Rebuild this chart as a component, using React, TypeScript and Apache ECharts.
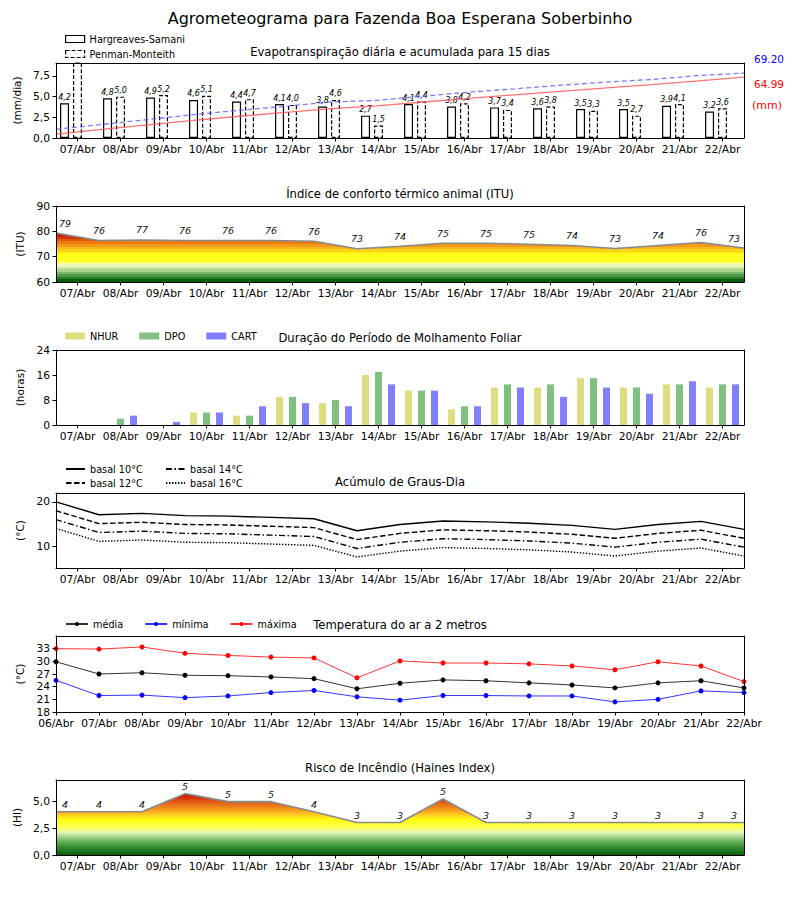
import React, { useEffect, useRef } from 'react';
import * as echarts from 'echarts';

const FONT = 'DejaVu Sans';

const mainTitle = 'Agrometeograma para Fazenda Boa Esperana Soberbinho';
const panelTitles = [
  'Evapotranspiração diária e acumulada para 15 dias',
  'Índice de conforto térmico animal (ITU)',
  'Duração do Período de Molhamento Foliar',
  'Acúmulo de Graus-Dia',
  'Temperatura do ar a 2 metros',
  'Risco de Incêndio (Haines Index)',
];
const axisNames = ['(mm/dia)', '(ITU)', '(horas)', '(°C)', '(°C)', '(HI)'];

const days = ['07/Abr', '08/Abr', '09/Abr', '10/Abr', '11/Abr', '12/Abr', '13/Abr', '14/Abr', '15/Abr', '16/Abr', '17/Abr', '18/Abr', '19/Abr', '20/Abr', '21/Abr', '22/Abr'];
const days17 = ['06/Abr', '07/Abr', '08/Abr', '09/Abr', '10/Abr', '11/Abr', '12/Abr', '13/Abr', '14/Abr', '15/Abr', '16/Abr', '17/Abr', '18/Abr', '19/Abr', '20/Abr', '21/Abr', '22/Abr'];

// Panel 1: evapotranspiration
const etHS = [4.2, 4.8, 4.9, 4.6, 4.4, 4.1, 3.8, 2.7, 4.1, 3.8, 3.7, 3.6, 3.5, 3.5, 3.9, 3.2];
const etPM = [9.3, 5.0, 5.2, 5.1, 4.7, 4.0, 4.6, 1.5, 4.4, 4.2, 3.4, 3.8, 3.3, 2.7, 4.1, 3.6];
const cumHS = [4.2, 9.1, 14.0, 18.7, 23.2, 27.4, 31.3, 34.2, 38.4, 42.3, 46.1, 49.8, 53.4, 57.0, 61.0, 64.99];
const cumPM = [9.3, 14.4, 19.7, 24.9, 29.7, 33.8, 38.5, 40.1, 44.6, 48.9, 52.4, 56.3, 59.7, 62.5, 66.6, 69.2];

// Panel 2: ITU
const itu = [79.3, 76.4, 76.6, 76.4, 76.4, 76.4, 76.1, 73.1, 74.1, 75.3, 75.3, 74.9, 74.4, 73.2, 74.4, 75.6, 73.4];

// Panel 3: leaf wetness (hours)
const nhur = [0, 0, 0, 4, 3, 9, 7, 16, 11, 5, 12, 12, 15, 12, 13, 12];
const dpo = [0, 2, 0, 4, 3, 9, 8, 17, 11, 6, 13, 13, 15, 12, 13, 13];
const cart = [0, 3, 1, 4, 6, 7, 6, 13, 11, 6, 12, 9, 12, 10, 14, 13];

// Panel 4: degree days
const gd10 = [20.0, 17.1, 17.4, 16.9, 16.8, 16.5, 16.2, 13.5, 14.9, 15.7, 15.5, 15.2, 14.7, 13.8, 14.9, 15.6, 13.8];
const gd12 = [18.0, 15.1, 15.4, 14.9, 14.8, 14.5, 14.2, 11.5, 12.9, 13.7, 13.5, 13.2, 12.7, 11.8, 12.9, 13.6, 11.8];
const gd14 = [16.0, 13.1, 13.4, 12.9, 12.8, 12.5, 12.2, 9.5, 10.9, 11.7, 11.5, 11.2, 10.7, 9.8, 10.9, 11.6, 9.8];
const gd16 = [14.0, 11.1, 11.4, 10.9, 10.8, 10.5, 10.2, 7.6, 8.9, 9.7, 9.5, 9.2, 8.7, 7.8, 8.9, 9.6, 7.8];

// Panel 5: temperature
const tMed = [29.9, 27.0, 27.3, 26.7, 26.6, 26.3, 25.9, 23.5, 24.8, 25.6, 25.4, 24.9, 24.4, 23.7, 24.9, 25.4, 23.7];
const tMin = [25.5, 21.9, 22.0, 21.4, 21.8, 22.6, 23.1, 21.6, 20.8, 21.9, 21.9, 21.8, 21.8, 20.4, 21.0, 23.0, 22.6];
const tMax = [33.0, 32.9, 33.4, 31.9, 31.4, 31.0, 30.8, 26.1, 30.1, 29.6, 29.6, 29.4, 28.9, 28.0, 29.9, 28.9, 25.2];

// Panel 6: Haines
const haines = [4.05, 4.05, 4.05, 5.75, 5.0, 5.0, 4.05, 3.05, 3.05, 5.25, 3.05, 3.05, 3.05, 3.05, 3.05, 3.05, 3.05];
const hainesLabels = ['4', '4', '4', '5', '5', '5', '4', '3', '3', '5', '3', '3', '3', '3', '3', '3', '3'];

const ticksET = [0, 2.5, 5, 7.5];
const ticksITU = [60, 70, 80, 90];
const ticksLW = [0, 8, 16, 24];
const ticksGD = [10, 20];
const ticksT = [18, 21, 24, 27, 30, 33];
const ticksHI = [0, 2.5, 5];

const GRIDS = [
  { top: 63, height: 75, min: 0, max: 9.07, ticks: ticksET },
  { top: 206, height: 76, min: 60, max: 90, ticks: ticksITU },
  { top: 350, height: 75, min: 0, max: 24, ticks: ticksLW },
  { top: 493, height: 75, min: 5.1, max: 22, ticks: ticksGD },
  { top: 636, height: 76, min: 18, max: 36, ticks: ticksT },
  { top: 780, height: 75, min: 0, max: 7.03, ticks: ticksHI },
];

const ituBands: [number, string][] = [
  [60, '#0b5e0b'], [61, '#2a7d2a'], [62, '#4f9a45'], [63, '#7bb96a'], [64, '#a6d48c'],
  [65, '#cdeaa8'], [66, '#ecf8b4'], [67, '#fbff8a'], [68, '#ffff1e'], [71, '#fff010'],
  [72, '#fdd21a'], [73, '#f9b51e'], [74, '#f39a18'], [75, '#ec7c10'], [76, '#e05a06'],
  [77, '#d23204'], [78, '#c80a00'], [90, '#c80a00'],
];
const hainesStops: [number, string][] = [
  [0, '#0a5e0a'], [0.7, '#2f8a2f'], [1.3, '#6cb45c'], [1.8, '#b4dc98'], [2.15, '#e8f8b8'],
  [2.6, '#ffff50'], [3.3, '#ffff10'], [3.8, '#ffc820'], [4.3, '#f49418'], [4.9, '#e4621a'],
  [5.4, '#d42a08'], [5.8, '#c80a00'], [7.03, '#c80a00'],
];

const fmtComma = (v: number) => v.toFixed(1).replace('.', ',');

function bandGradient(gi: number, bands: [number, string][]) {
  const g = GRIDS[gi];
  const bottom = g.top + g.height;
  const off = (v: number) => Math.max(0, Math.min(1, (v - g.min) / (g.max - g.min)));
  const stops: { offset: number; color: string }[] = [];
  for (let i = 0; i < bands.length - 1; i++) {
    stops.push({ offset: off(bands[i][0]), color: bands[i][1] });
    stops.push({ offset: off(bands[i + 1][0]) - 0.0001, color: bands[i][1] });
  }
  return new echarts.graphic.LinearGradient(0, bottom, 0, g.top, stops, true);
}
function smoothGradient(gi: number, st: [number, string][]) {
  const g = GRIDS[gi];
  const bottom = g.top + g.height;
  const off = (v: number) => Math.max(0, Math.min(1, (v - g.min) / (g.max - g.min)));
  return new echarts.graphic.LinearGradient(0, bottom, 0, g.top, st.map(([v, c]) => ({ offset: off(v), color: c })), true);
}

const TICK_FS = 10.7;
const black = { color: '#000', width: 1 };

function bottomX(gi: number, data: string[], boundaryGap: boolean) {
  return {
    type: 'category', gridIndex: gi, position: 'bottom', data, boundaryGap,
    axisLine: { show: true, onZero: false, lineStyle: black },
    axisTick: { show: true, alignWithLabel: true, interval: 0, length: 3.5, lineStyle: black },
    axisLabel: { interval: 0, hideOverlap: false, fontSize: TICK_FS, color: '#000', fontFamily: FONT, margin: 6 },
    splitLine: { show: false }, z: 10,
  };
}
function topX(gi: number, data: string[], boundaryGap: boolean) {
  return {
    type: 'category', gridIndex: gi, position: 'top', data, boundaryGap,
    axisLine: { show: true, onZero: false, lineStyle: black },
    axisTick: { show: false }, axisLabel: { show: false }, splitLine: { show: false }, z: 10,
  };
}
function leftY(gi: number, fmt?: (v: number) => string) {
  const g = GRIDS[gi];
  return {
    type: 'value', gridIndex: gi, position: 'left', min: g.min, max: g.max,
    name: axisNames[gi], nameLocation: 'middle', nameGap: 30, nameRotate: 90,
    nameTextStyle: { fontSize: 10.5, color: '#000', fontFamily: FONT },
    axisLine: { show: true, onZero: false, lineStyle: black },
    axisTick: { show: true, length: 3.5, customValues: g.ticks, lineStyle: black },
    axisLabel: { customValues: g.ticks, formatter: fmt, fontSize: TICK_FS, color: '#000', fontFamily: FONT, margin: 6 },
    splitLine: { show: false }, z: 10,
  };
}
function rightY(gi: number, min?: number, max?: number) {
  const g = GRIDS[gi];
  return {
    type: 'value', gridIndex: gi, position: 'right', min: min ?? g.min, max: max ?? g.max,
    axisLine: { show: true, onZero: false, lineStyle: black },
    axisTick: { show: false }, axisLabel: { show: false }, splitLine: { show: false }, z: 10,
  };
}

function buildOption(): any {
  const grids = GRIDS.map((g) => ({ left: 56, right: 56, top: g.top, height: g.height, containLabel: false }));
  const xAxis = [
    bottomX(0, days, true), topX(0, days, false),
    bottomX(1, days, true), topX(1, days17, false),
    bottomX(2, days, true), topX(2, days, true),
    bottomX(3, days, true), topX(3, days17, false),
    bottomX(4, days17, false), topX(4, days17, false),
    bottomX(5, days, true), topX(5, days17, false),
  ];
  const yAxis = [
    leftY(0, fmtComma), rightY(0, 0, 80),
    leftY(1), rightY(1),
    leftY(2), rightY(2),
    leftY(3), rightY(3),
    leftY(4), rightY(4),
    leftY(5, fmtComma), rightY(5),
  ];

  const barLabel = {
    show: true, position: 'top', distance: 2, fontSize: 8, fontStyle: 'italic', color: '#000', fontFamily: FONT,
    formatter: (p: any) => fmtComma(p.value),
  };
  const maxET = GRIDS[0].max;
  const etItems = (arr: number[]) => arr.map((v) => (v > maxET ? { value: v, label: { show: false } } : v));

  const edgeLabel = (n: number) => (i: number) =>
    i === 0 ? { offset: [9, 0] } : i === n - 1 ? { offset: [-10, 0] } : {};

  const ituLabelOf = edgeLabel(itu.length);
  const hiLabelOf = edgeLabel(haines.length);
  const hiddenSymbol = { symbol: 'circle', symbolSize: 2, showSymbol: true, itemStyle: { color: 'rgba(0,0,0,0)' } };

  const series: any[] = [
    {
      name: 'Hargreaves-Samani', type: 'bar', xAxisIndex: 0, yAxisIndex: 0, data: etItems(etHS),
      barWidth: 9, barGap: '44%', clip: true,
      itemStyle: { color: '#ffffff', borderColor: '#000', borderWidth: 1.2 },
      label: barLabel, z: 2,
    },
    {
      name: 'Penman-Monteith', type: 'bar', xAxisIndex: 0, yAxisIndex: 0, data: etItems(etPM),
      barWidth: 9, barGap: '44%', clip: true,
      itemStyle: { color: '#ffffff', borderColor: '#000', borderWidth: 1.2, borderType: [4, 2] },
      label: barLabel, z: 2,
    },
    { name: '_pad', type: 'bar', xAxisIndex: 0, yAxisIndex: 0, data: [], barWidth: 9, barGap: '44%' },
    {
      name: 'PM acumulada', type: 'line', xAxisIndex: 1, yAxisIndex: 1, data: cumPM, symbol: 'none',
      lineStyle: { color: 'rgba(90,90,255,0.8)', width: 1.3, type: [5, 3] }, z: 5,
    },
    {
      name: 'HS acumulada', type: 'line', xAxisIndex: 1, yAxisIndex: 1, data: cumHS, symbol: 'none',
      lineStyle: { color: 'rgba(255,90,90,0.85)', width: 1.3 }, z: 5,
    },
    {
      name: 'ITU', type: 'line', xAxisIndex: 3, yAxisIndex: 2, ...hiddenSymbol,
      data: itu.map((v, i) => ({ value: v, label: ituLabelOf(i) })),
      lineStyle: { color: '#8a8a8a', width: 1.6 },
      areaStyle: { origin: 'start', color: bandGradient(1, ituBands), opacity: 1 },
      label: {
        show: true, position: 'top', distance: 4, fontSize: 9.5, fontStyle: 'italic', color: '#111', fontFamily: FONT,
        formatter: (p: any) => String(Math.round(p.value)),
      },
    },
    { name: 'NHUR', type: 'bar', xAxisIndex: 4, yAxisIndex: 4, data: nhur, barWidth: 7, barGap: '86%', itemStyle: { color: '#dede80' } },
    { name: 'DPO', type: 'bar', xAxisIndex: 4, yAxisIndex: 4, data: dpo, barWidth: 7, barGap: '86%', itemStyle: { color: '#80c080' } },
    { name: 'CART', type: 'bar', xAxisIndex: 4, yAxisIndex: 4, data: cart, barWidth: 7, barGap: '86%', itemStyle: { color: '#8080ff' } },
    { name: 'basal 10°C', type: 'line', xAxisIndex: 7, yAxisIndex: 6, data: gd10, symbol: 'none', itemStyle: { color: '#000' }, lineStyle: { color: '#000', width: 1.4, type: 'solid' } },
    { name: 'basal 12°C', type: 'line', xAxisIndex: 7, yAxisIndex: 6, data: gd12, symbol: 'none', itemStyle: { color: '#000' }, lineStyle: { color: '#000', width: 1.4, type: [5.5, 2.5] } },
    { name: 'basal 14°C', type: 'line', xAxisIndex: 7, yAxisIndex: 6, data: gd14, symbol: 'none', itemStyle: { color: '#000' }, lineStyle: { color: '#000', width: 1.4, type: [6, 2.5, 1.5, 2.5] } },
    { name: 'basal 16°C', type: 'line', xAxisIndex: 7, yAxisIndex: 6, data: gd16, symbol: 'none', itemStyle: { color: '#000' }, lineStyle: { color: '#000', width: 1.4, type: [1.4, 1.6] } },
    { name: 'média', type: 'line', xAxisIndex: 8, yAxisIndex: 8, data: tMed, symbol: 'circle', symbolSize: 5, itemStyle: { color: '#000' }, lineStyle: { color: '#000', width: 1, opacity: 0.8 } },
    { name: 'mínima', type: 'line', xAxisIndex: 8, yAxisIndex: 8, data: tMin, symbol: 'circle', symbolSize: 5, itemStyle: { color: '#0000ff' }, lineStyle: { color: '#0000ff', width: 1, opacity: 0.8 } },
    { name: 'máxima', type: 'line', xAxisIndex: 8, yAxisIndex: 8, data: tMax, symbol: 'circle', symbolSize: 5, itemStyle: { color: '#ff0000' }, lineStyle: { color: '#ff0000', width: 1, opacity: 0.8 } },
    {
      name: 'Haines', type: 'line', xAxisIndex: 11, yAxisIndex: 10, ...hiddenSymbol,
      data: haines.map((v, i) => ({ value: v, label: hiLabelOf(i) })),
      lineStyle: { color: '#8a8a8a', width: 1.6 },
      areaStyle: { origin: 'start', color: smoothGradient(5, hainesStops), opacity: 1 },
      label: {
        show: true, position: 'top', distance: 1, fontSize: 9.5, fontStyle: 'italic', color: '#111', fontFamily: FONT,
        formatter: (p: any) => hainesLabels[p.dataIndex],
      },
    },
  ];

  const legText = { fontSize: 9.7, color: '#000', fontFamily: FONT, lineHeight: 12 };
  const legend = [
    {
      left: 65, top: 33, padding: 0, orient: 'vertical', itemWidth: 19, itemHeight: 7, itemGap: 3, selectedMode: false,
      textStyle: legText,
      data: [
        { name: 'Hargreaves-Samani', icon: 'rect', itemStyle: { color: '#fff', borderColor: '#000', borderWidth: 1.2 } },
        { name: 'Penman-Monteith', icon: 'rect', itemStyle: { color: '#fff', borderColor: '#000', borderWidth: 1.2, borderType: [4, 2] } },
      ],
    },
    {
      left: 65, top: 330, padding: 0, orient: 'horizontal', itemWidth: 20, itemHeight: 7, itemGap: 21, selectedMode: false,
      textStyle: legText, icon: 'rect', data: ['NHUR', 'DPO', 'CART'],
    },
    {
      left: 65, top: 463, padding: 0, orient: 'vertical', itemWidth: 19, itemHeight: 8, itemGap: 2, selectedMode: false,
      textStyle: legText, itemStyle: { opacity: 0 }, data: ['basal 10°C', 'basal 12°C'],
    },
    {
      left: 165, top: 463, padding: 0, orient: 'vertical', itemWidth: 19, itemHeight: 8, itemGap: 2, selectedMode: false,
      textStyle: legText, itemStyle: { opacity: 0 }, data: ['basal 14°C', 'basal 16°C'],
    },
    {
      left: 65, top: 618, padding: 0, orient: 'horizontal', itemWidth: 22, itemHeight: 5, itemGap: 21, selectedMode: false,
      textStyle: legText, data: ['média', 'mínima', 'máxima'],
    },
  ];

  const titleTops = [41, 183, 327, 471, 614, 757];
  const title = [
    { text: mainTitle, left: 'center', top: 5, textStyle: { fontSize: 16, fontWeight: 'normal', color: '#000', fontFamily: FONT } },
    ...panelTitles.map((t, i) => ({
      text: t, left: 'center', top: titleTops[i],
      textStyle: { fontSize: 11.6, fontWeight: 'normal', color: '#000', fontFamily: FONT },
    })),
  ];

  const graphic = [
    { type: 'text', x: 769, y: 59, style: { text: cumPM[cumPM.length - 1].toFixed(2), fill: '#0000ff', fontSize: 10.5, fontFamily: FONT, textAlign: 'center', textVerticalAlign: 'middle' } },
    { type: 'text', x: 769, y: 84, style: { text: cumHS[cumHS.length - 1].toFixed(2), fill: '#ff0000', fontSize: 10.5, fontFamily: FONT, textAlign: 'center', textVerticalAlign: 'middle' } },
    { type: 'text', x: 767, y: 105, style: { text: '(mm)', fill: '#ff0000', fontSize: 11, fontFamily: FONT, textAlign: 'center', textVerticalAlign: 'middle' } },
  ];

  return {
    animation: false,
    backgroundColor: '#ffffff',
    textStyle: { fontFamily: FONT },
    title, legend, grid: grids, xAxis, yAxis, series, graphic,
  };
}

export default function App() {
  const ref = useRef<HTMLDivElement>(null);
  useEffect(() => {
    if (!ref.current) return;
    const chart = echarts.init(ref.current, null, { renderer: 'svg' });
    chart.setOption(buildOption());
    return () => chart.dispose();
  }, []);
  return (
    <div
      ref={ref}
      style={{ position: 'absolute', left: 0, top: 0, width: 800, height: 900, background: '#fff' }}
    />
  );
}
